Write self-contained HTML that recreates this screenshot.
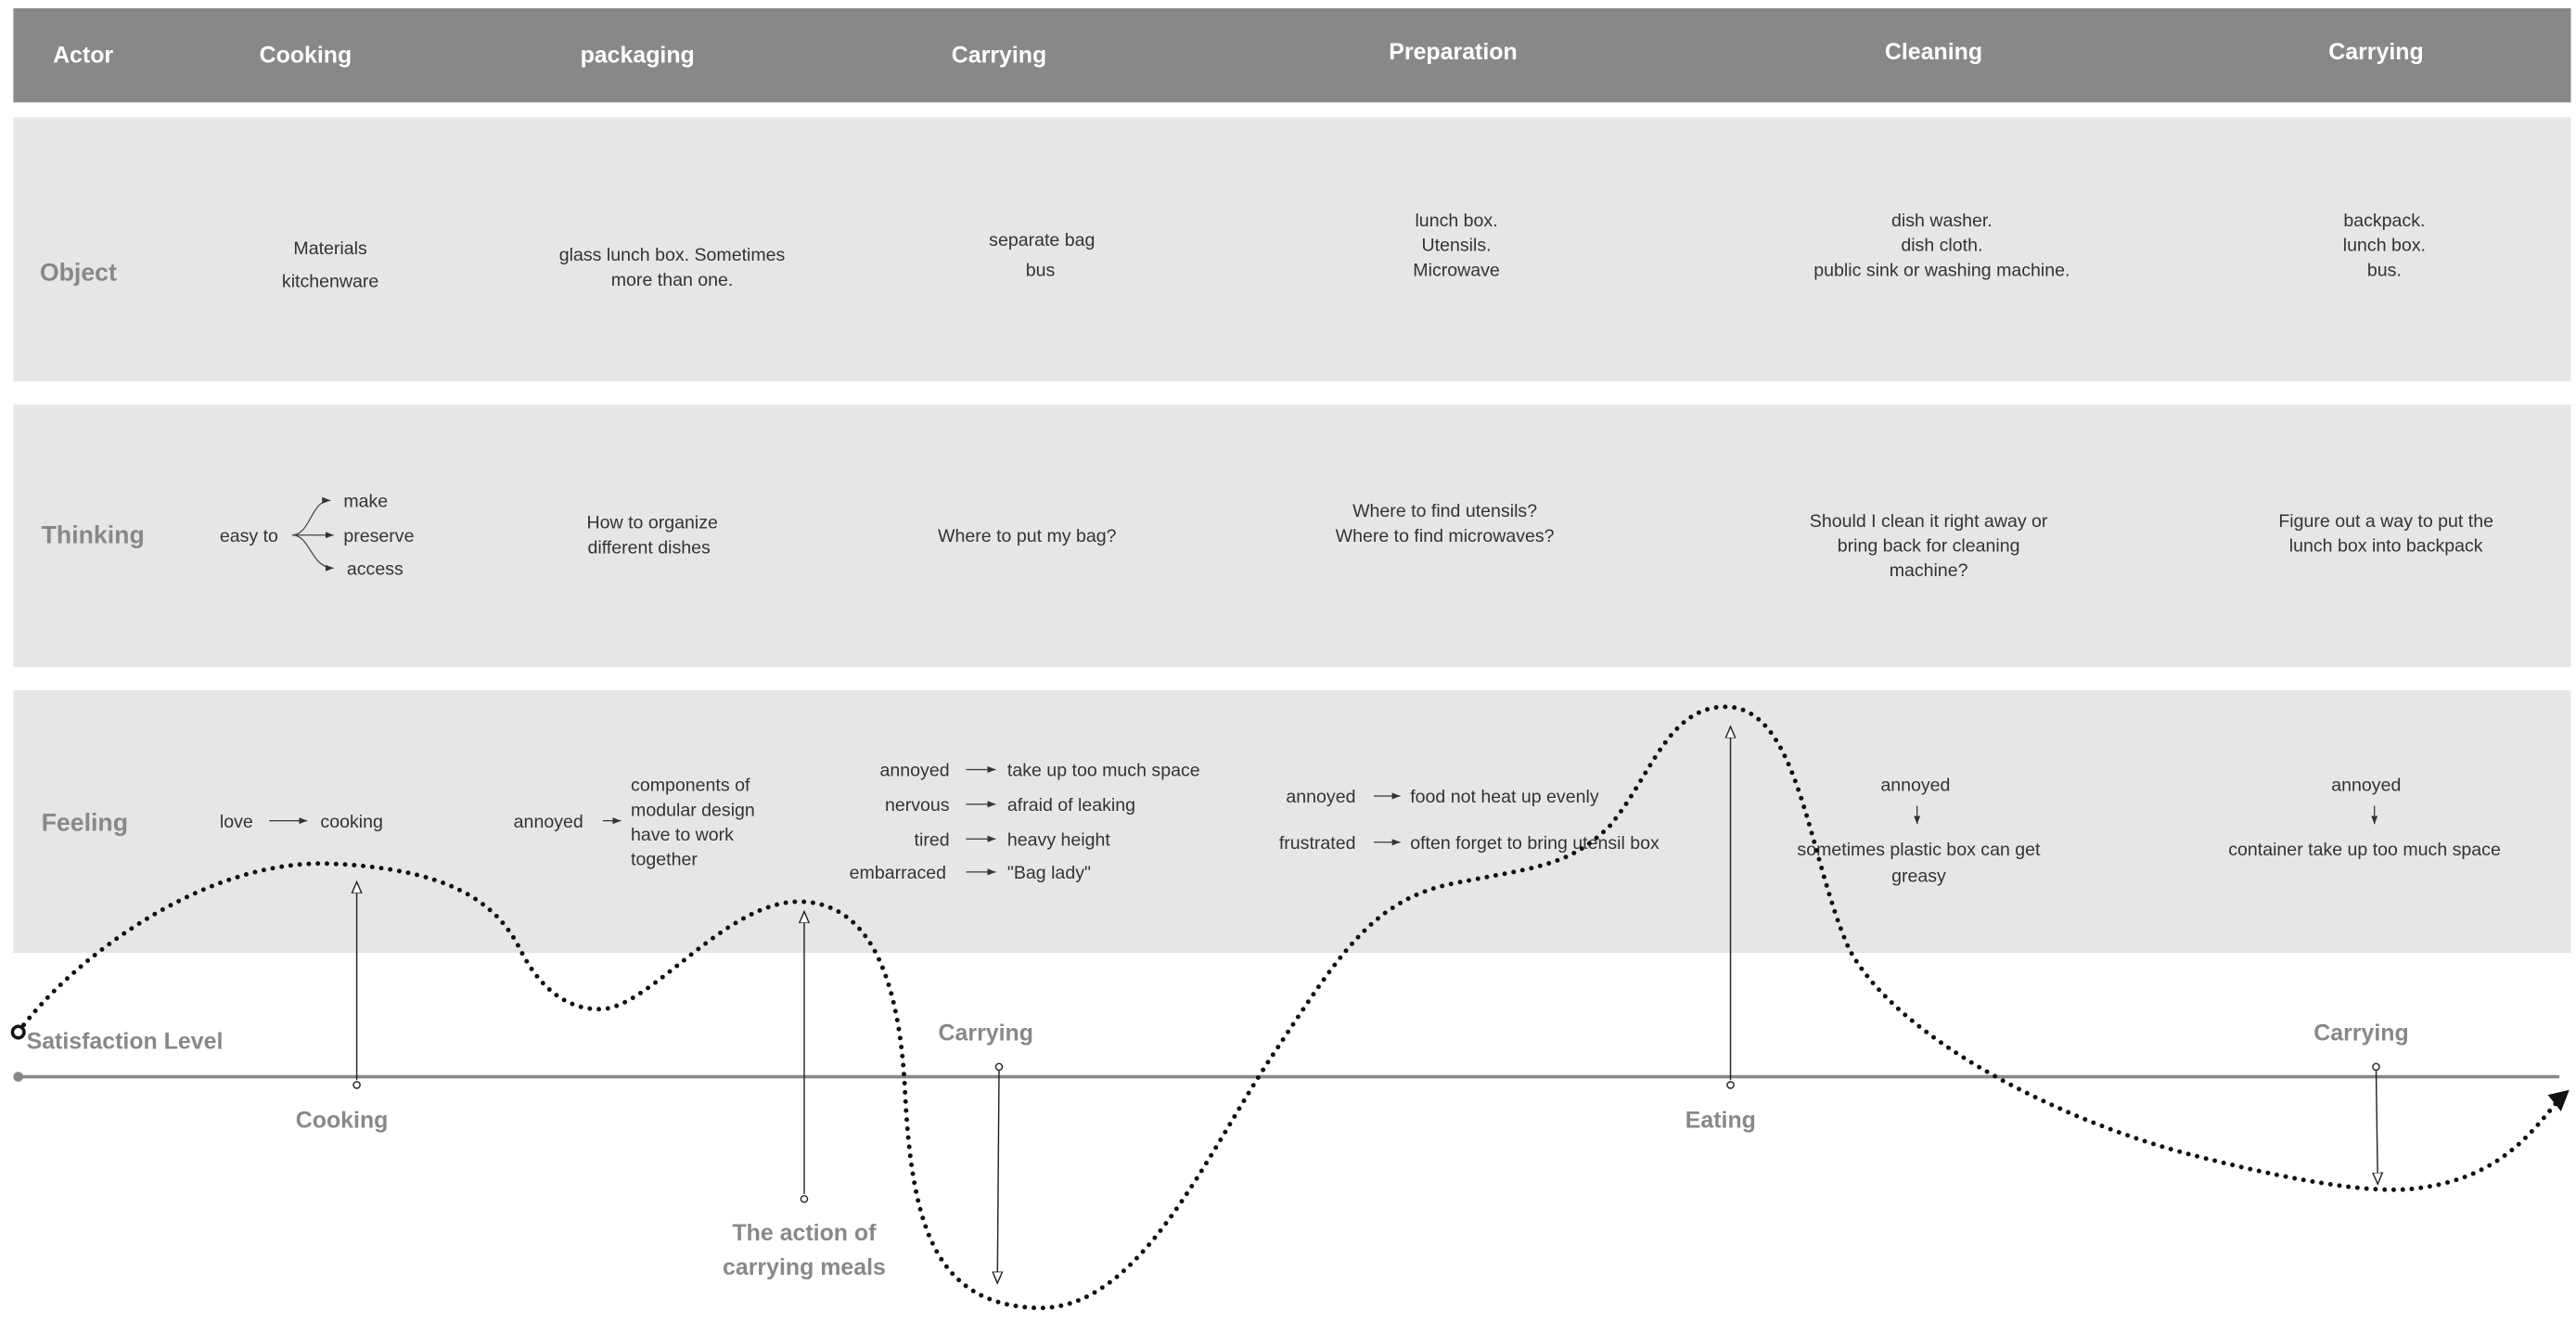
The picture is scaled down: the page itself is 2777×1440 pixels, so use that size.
<!DOCTYPE html>
<html><head><meta charset="utf-8"><style>
html,body{margin:0;padding:0;background:#fff;}
svg{display:block;}
text{font-family:"Liberation Sans",sans-serif;}
.h{fill:#fff;font-weight:bold;font-size:14px;}
.lab{fill:#888;font-weight:bold;font-size:15px;}
.t{fill:#333;font-size:11px;}
.c{text-anchor:middle;}
.r{text-anchor:end;}
.big{fill:#888;font-weight:bold;font-size:14px;}
</style></head><body>
<svg width="2777" height="1440" viewBox="0 0 1560 809" xmlns="http://www.w3.org/2000/svg">
<defs>
<marker id="ah" markerWidth="8" markerHeight="8" refX="7" refY="4" orient="auto" markerUnits="userSpaceOnUse">
<path d="M0,1 L7,4 L0,7 Z" fill="#fff" stroke="#222" stroke-width="0.8"/></marker>
<marker id="sa" markerWidth="6" markerHeight="6" refX="5" refY="3" orient="auto" markerUnits="userSpaceOnUse">
<path d="M0,1 L5,3 L0,5 Z" fill="#333"/></marker>
</defs>
<rect x="8" y="5" width="1549" height="57" fill="#888"/>
<rect x="8" y="71" width="1549" height="160" fill="#e6e6e6"/>
<rect x="8" y="245" width="1549" height="159" fill="#e6e6e6"/>
<rect x="8" y="418" width="1549" height="159" fill="#e6e6e6"/>

<text class="h" x="32" y="38">Actor</text>
<text class="h c" x="185" y="38">Cooking</text>
<text class="h c" x="386" y="38">packaging</text>
<text class="h c" x="605" y="38">Carrying</text>
<text class="h c" x="880" y="36">Preparation</text>
<text class="h c" x="1171" y="36">Cleaning</text>
<text class="h c" x="1439" y="36">Carrying</text>

<text class="lab" x="24" y="170">Object</text>
<text class="t c" x="200" y="154">Materials</text>
<text class="t c" x="200" y="174">kitchenware</text>
<text class="t c" x="407" y="158">glass lunch box. Sometimes</text>
<text class="t c" x="407" y="173">more than one.</text>
<text class="t c" x="631" y="149">separate bag</text>
<text class="t c" x="630" y="167">bus</text>
<text class="t c" x="882" y="137">lunch box.</text>
<text class="t c" x="882" y="152">Utensils.</text>
<text class="t c" x="882" y="167">Microwave</text>
<text class="t c" x="1176" y="137">dish washer.</text>
<text class="t c" x="1176" y="152">dish cloth.</text>
<text class="t c" x="1176" y="167">public sink or washing machine.</text>
<text class="t c" x="1444" y="137">backpack.</text>
<text class="t c" x="1444" y="152">lunch box.</text>
<text class="t c" x="1444" y="167">bus.</text>

<text class="lab" x="25" y="329">Thinking</text>
<text class="t" x="133" y="328">easy to</text>
<g fill="none" stroke="#444" stroke-width="0.7">
<path d="M177,324 C188,324 188,303 200,303" marker-end="url(#sa)"/>
<path d="M177,324 L202,324" marker-end="url(#sa)"/>
<path d="M177,324 C188,324 188,344 202,344" marker-end="url(#sa)"/>
</g>
<text class="t" x="208" y="307">make</text>
<text class="t" x="208" y="328">preserve</text>
<text class="t" x="210" y="348">access</text>
<text class="t c" x="395" y="320">How to organize</text>
<text class="t c" x="393" y="335">different dishes</text>
<text class="t c" x="622" y="328">Where to put my bag?</text>
<text class="t c" x="875" y="313">Where to find utensils?</text>
<text class="t c" x="875" y="328">Where to find microwaves?</text>
<text class="t c" x="1168" y="319">Should I clean it right away or</text>
<text class="t c" x="1168" y="334">bring back for cleaning</text>
<text class="t c" x="1168" y="349">machine?</text>
<text class="t c" x="1445" y="319">Figure out a way to put the</text>
<text class="t c" x="1445" y="334">lunch box into backpack</text>

<text class="lab" x="25" y="503">Feeling</text>
<g stroke="#333" stroke-width="0.7" fill="none">
<line x1="163" y1="497" x2="186" y2="497" marker-end="url(#sa)"/>
<line x1="365" y1="497" x2="376" y2="497" marker-end="url(#sa)"/>
<line x1="585" y1="466" x2="603" y2="466" marker-end="url(#sa)"/>
<line x1="585" y1="487" x2="603" y2="487" marker-end="url(#sa)"/>
<line x1="585" y1="508" x2="603" y2="508" marker-end="url(#sa)"/>
<line x1="585" y1="528" x2="603" y2="528" marker-end="url(#sa)"/>
<line x1="832" y1="482" x2="848" y2="482" marker-end="url(#sa)"/>
<line x1="832" y1="510" x2="848" y2="510" marker-end="url(#sa)"/>
<line x1="1161" y1="488" x2="1161" y2="499" marker-end="url(#sa)"/>
<line x1="1438" y1="488" x2="1438" y2="499" marker-end="url(#sa)"/>
</g>
<text class="t" x="133" y="501">love</text>
<text class="t" x="194" y="501">cooking</text>
<text class="t" x="311" y="501">annoyed</text>
<text class="t" x="382" y="479">components of</text>
<text class="t" x="382" y="494">modular design</text>
<text class="t" x="382" y="509">have to work</text>
<text class="t" x="382" y="524">together</text>
<text class="t r" x="575" y="470">annoyed</text>
<text class="t r" x="575" y="491">nervous</text>
<text class="t r" x="575" y="512">tired</text>
<text class="t r" x="573" y="532">embarraced</text>
<text class="t" x="610" y="470">take up too much space</text>
<text class="t" x="610" y="491">afraid of leaking</text>
<text class="t" x="610" y="512">heavy height</text>
<text class="t" x="610" y="532">"Bag lady"</text>
<text class="t r" x="821" y="486">annoyed</text>
<text class="t r" x="821" y="514">frustrated</text>
<text class="t" x="854" y="486">food not heat up evenly</text>
<text class="t" x="854" y="514">often forget to bring utensil box</text>
<text class="t c" x="1160" y="479">annoyed</text>
<text class="t c" x="1162" y="518">sometimes plastic box can get</text>
<text class="t c" x="1162" y="534">greasy</text>
<text class="t c" x="1433" y="479">annoyed</text>
<text class="t c" x="1432" y="518">container take up too much space</text>

<!-- axis -->
<line x1="11" y1="652" x2="1550" y2="652" stroke="#888" stroke-width="2"/>
<circle cx="11" cy="652" r="3" fill="#888"/>
<text class="big" x="16" y="635">Satisfaction Level</text>
<text class="big c" x="207" y="683">Cooking</text>
<text class="big c" x="597" y="630">Carrying</text>
<text class="big c" x="487" y="751">The action of</text>
<text class="big c" x="487" y="772">carrying meals</text>
<text class="big c" x="1042" y="683">Eating</text>
<text class="big c" x="1430" y="630">Carrying</text>

<!-- vertical arrows -->
<g stroke="#222" stroke-width="0.8" fill="none">
<line x1="216" y1="654" x2="216" y2="534" marker-end="url(#ah)"/>
<line x1="487" y1="723" x2="487" y2="552" marker-end="url(#ah)"/>
<line x1="605" y1="648" x2="604" y2="777" marker-end="url(#ah)"/>
<line x1="1048" y1="654" x2="1048" y2="440" marker-end="url(#ah)"/>
<line x1="1439" y1="648" x2="1440" y2="717" marker-end="url(#ah)"/>
</g>
<g fill="#fff" stroke="#222" stroke-width="0.8">
<circle cx="216" cy="657" r="2"/>
<circle cx="487" cy="726" r="2"/>
<circle cx="605" cy="646" r="2"/>
<circle cx="1048" cy="657" r="2"/>
<circle cx="1439" cy="646" r="2"/>
</g>

<!-- curve -->
<path d="M11,625 C40,585 120,520 200,523 C270,526 300,545 315,575 C330,605 350,612 365,611 C395,609 440,545 485,546 C530,547 545,600 548,660 C552,740 565,790 628,792 C690,794 730,700 770,640 C810,580 830,545 880,535 C930,525 950,525 975,500 C1000,470 1010,428 1045,428 C1090,428 1095,520 1120,575 C1150,630 1250,680 1330,700 C1400,718 1440,722 1460,720 C1510,715 1530,690 1548,668" fill="none" stroke="#111" stroke-width="2.8" stroke-linecap="round" stroke-dasharray="0 5.5"/>
<path d="M1556,660 L1543,663 L1551,673 Z" fill="#111"/>
<circle cx="11" cy="625" r="3.5" fill="#fff" stroke="#111" stroke-width="2"/>
</svg>
</body></html>
